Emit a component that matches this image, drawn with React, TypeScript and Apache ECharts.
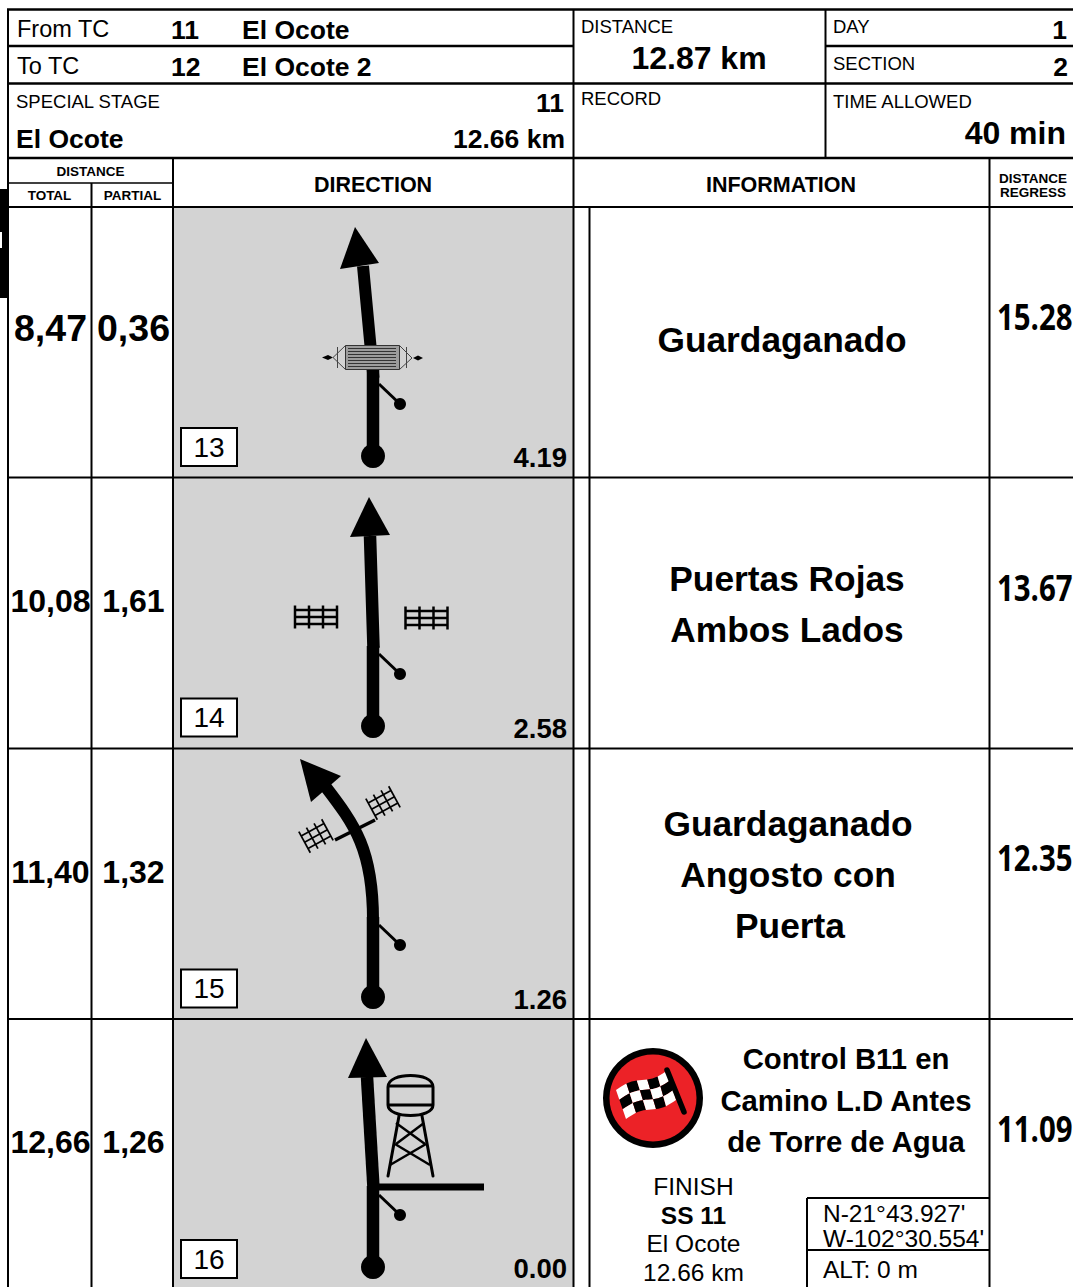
import React, { useEffect, useRef } from "react";
import * as echarts from "echarts";

const totals = ["8,47", "10,08", "11,40", "12,66"];
const partials = ["0,36", "1,61", "1,32", "1,26"];
const regress = ["15.28", "13.67", "12.35", "11.09"];
const stepNumbers = ["13", "14", "15", "16"];
const remaining = ["4.19", "2.58", "1.26", "0.00"];
const infoLines = [
  ["Guardaganado"],
  ["Puertas Rojas", "Ambos Lados"],
  ["Guardaganado", "Angosto con", "Puerta"],
  ["Control B11 en", "Camino L.D Antes", "de Torre de Agua"],
];
const finishLines = ["FINISH", "SS 11", "El Ocote", "12.66 km"];
const coordLines = ["N-21°43.927'", "W-102°30.554'", "ALT: 0 m"];

const FONT = "'Liberation Sans', Arial, sans-serif";
const K = "#000";
const els: any[] = [];

function T(text: string, x: number, y: number, size: number, bold = false, align = "left") {
  els.push({
    type: "text", x, y,
    style: {
      text, fontSize: size, fontFamily: FONT, fontWeight: bold ? "bold" : "normal", fill: K,
      align, textAlign: align, verticalAlign: "middle", textVerticalAlign: "middle",
    },
  });
}
function L(x1: number, y1: number, x2: number, y2: number, w = 2, c = K, cap = "butt") {
  els.push({ type: "line", shape: { x1, y1, x2, y2 }, style: { stroke: c, lineWidth: w, lineCap: cap } });
}
function C(cx: number, cy: number, r: number, fill = K) {
  els.push({ type: "circle", shape: { cx, cy, r }, style: { fill } });
}
function P(points: number[][], fill = K) {
  els.push({ type: "polygon", shape: { points }, style: { fill } });
}
function fence(cx: number, cy: number, w: number, h: number, rotation: number, lw: number) {
  const children: any[] = [];
  [-0.5, -1 / 6, 1 / 6, 0.5].forEach((f) =>
    children.push({ type: "line", shape: { x1: f * w, y1: -h / 2, x2: f * w, y2: h / 2 }, style: { stroke: K, lineWidth: lw } })
  );
  [-0.3, 0, 0.3].forEach((f) =>
    children.push({ type: "line", shape: { x1: -w / 2, y1: f * h, x2: w / 2, y2: f * h }, style: { stroke: K, lineWidth: lw } })
  );
  els.push({ type: "group", x: cx, y: cy, rotation, children });
}
function startStem(dy: number) {
  L(379, 384 + dy, 400, 404 + dy, 3);
  C(400, 404 + dy, 6);
  C(373, 456 + dy, 12);
}

function build() {
  els.length = 0;
  // page furniture
  els.push({ type: "rect", shape: { x: 0, y: 0, width: 1073, height: 1287 }, style: { fill: "#fff" } });
  els.push({ type: "rect", shape: { x: 174, y: 208, width: 399, height: 1079 }, style: { fill: "#d3d3d3" } });
  els.push({ type: "rect", shape: { x: 0, y: 189, width: 7, height: 109 }, style: { fill: K } });
  els.push({ type: "rect", shape: { x: 0, y: 232, width: 2, height: 16 }, style: { fill: "#fff" } });

  // grid
  L(7, 9.5, 1073, 9.5, 2.5);
  L(8, 9, 8, 1287, 2);
  L(573.5, 9, 573.5, 1287, 2);
  L(825.5, 9, 825.5, 158, 2);
  L(8, 46, 573, 46, 2.5);
  L(825, 46, 1073, 46, 2.5);
  L(8, 83.5, 1073, 83.5, 2.5);
  L(8, 158, 1073, 158, 2.5);
  L(8, 183, 173, 183, 1.5);
  L(8, 207, 1073, 207, 2);
  L(91.5, 183, 91.5, 1287, 2);
  L(173, 158, 173, 1287, 2);
  L(589.5, 207, 589.5, 1287, 2);
  L(989.5, 158, 989.5, 1287, 2);
  [477.5, 748.5, 1019].forEach((y) => L(8, y, 1073, y, 2));

  // header
  T("From TC", 17, 29, 23.5);
  T("11", 171, 30, 26.5, true);
  T("El Ocote", 242, 30, 26.5, true);
  T("To TC", 17, 66, 23.5);
  T("12", 171, 67, 26.5, true);
  T("El Ocote 2", 242, 67, 26.5, true);
  T("SPECIAL STAGE", 16, 101, 18.5);
  T("11", 564, 103, 26.5, true, "right");
  T("El Ocote", 16, 139, 26.5, true);
  T("12.66 km", 565, 139, 26.5, true, "right");
  T("DISTANCE", 581, 26, 18.5);
  T("12.87 km", 699, 58, 32, true, "center");
  T("RECORD", 581, 98, 18.5);
  T("DAY", 833, 26, 18.5);
  T("1", 1067, 30, 26.5, true, "right");
  T("SECTION", 833, 63, 18.5);
  T("2", 1068, 67, 26.5, true, "right");
  T("TIME ALLOWED", 833, 101, 18.5);
  T("40 min", 1066, 133, 32, true, "right");
  T("DISTANCE", 90.5, 171.5, 13.5, true, "center");
  T("TOTAL", 49.5, 195, 13.5, true, "center");
  T("PARTIAL", 132.5, 195, 13.5, true, "center");
  T("DIRECTION", 373, 185, 21.5, true, "center");
  T("INFORMATION", 781, 185, 21.5, true, "center");
  T("DISTANCE", 1033, 178, 13.5, true, "center");
  T("REGRESS", 1033, 192, 13.5, true, "center");

  // distances
  const dys = [0, 270, 541, 811];
  const totalY = [328, 601, 872, 1142];
  const regressY = [316, 587, 857, 1128];
  totals.forEach((t, i) => {
    T(t, 50.5, totalY[i], i === 0 ? 37.5 : 32, true, "center");
    T(partials[i], 133.5, totalY[i], i === 0 ? 37.5 : 32, true, "center");
    els.push({
      type: "text", x: 997, y: regressY[i], scaleX: 0.84,
      style: {
        text: regress[i], fontSize: 35, fontFamily: "'Open Sans', sans-serif", fontWeight: 700, fill: K,
        align: "left", textAlign: "left", verticalAlign: "middle", textVerticalAlign: "middle",
      },
    });
    const boxTop = [428, 698.5, 969.5, 1240][i];
    els.push({ type: "rect", shape: { x: 181, y: boxTop, width: 56, height: 38 }, style: { fill: "#fff", stroke: K, lineWidth: 2 } });
    T(stepNumbers[i], 209, boxTop + 19, 28, false, "center");
    T(remaining[i], 567, [457, 728, 999.5, 1268.5][i], 27.5, true, "right");
  });

  // row 1: straight with cattle guard
  L(363, 266, 373.5, 378, 12);
  L(373, 370, 373, 456, 12.5);
  P([[355, 227], [340, 269], [379, 263]]);
  startStem(0);
  els.push({ type: "rect", shape: { x: 345.5, y: 345.5, width: 54, height: 24 }, style: { fill: "#9c9c9c", stroke: "#333", lineWidth: 1 } });
  [348.5, 351.5, 354.5, 357.5, 360.5, 363.5, 366.5].forEach((y) => L(348, y, 396, y, 1, "#333"));
  els.push({ type: "polyline", shape: { points: [[345.5, 345.5], [333, 357.5], [345.5, 369.5]] }, style: { stroke: "#444", lineWidth: 1, fill: "none" } });
  els.push({ type: "polyline", shape: { points: [[399.5, 345.5], [412, 358], [399.5, 369.5]] }, style: { stroke: "#444", lineWidth: 1, fill: "none" } });
  L(337.5, 347, 337.5, 368, 1, "#444");
  L(406.5, 347, 406.5, 368, 1, "#444");
  P([[322, 357.5], [328, 355], [333, 357.5], [328, 360]]);
  P([[413, 358], [418, 355.5], [423, 358], [418, 360.5]]);

  // row 2: straight with gates
  const d2 = dys[1];
  L(370, 536, 373.5, 648, 12.5);
  L(373, 646, 373, 456 + d2, 12.5);
  P([[369, 497], [350, 537], [390, 535]]);
  startStem(d2);
  fence(316, 617, 42, 23, 0, 2.5);
  fence(426.5, 618, 42, 23, 0, 2.5);

  // row 3: curve with gates
  const d3 = dys[2];
  L(373, 917, 373, 456 + d3, 12.5);
  els.push({
    type: "bezierCurve",
    shape: { x1: 373, y1: 920, cpx1: 373, cpy1: 850, cpx2: 355, cpy2: 825, x2: 325, y2: 786 },
    style: { stroke: K, lineWidth: 12, fill: "none" },
  });
  P([[300, 759], [341, 776], [311, 802]]);
  startStem(d3);
  els.push({ type: "polyline", shape: { points: [[335, 840], [375, 820]] }, style: { stroke: K, lineWidth: 3.5, fill: "none" } });
  fence(316, 836, 26, 24, 0.5, 1.7);
  fence(383, 803, 26, 24, 0.5, 1.7);

  // row 4: tower and junction
  const d4 = dys[3];
  L(367, 1077, 373.5, 1188, 12.5);
  L(373, 1186, 373, 456 + d4, 12.5);
  P([[366, 1038], [348, 1078], [387, 1077]]);
  L(378, 1187, 484, 1187, 7);
  startStem(d4);
  els.push({ type: "waterTank", style: { fill: "none", stroke: K, lineWidth: 3 } });
  L(388, 1086, 433, 1086, 3);
  L(388, 1105, 433, 1105, 3);
  L(399, 1116, 388, 1176, 3, K, "round");
  L(422, 1116, 433, 1176, 3, K, "round");
  L(396, 1123, 425, 1144, 2.5);
  L(424, 1123, 396, 1144, 2.5);
  L(395, 1144, 430, 1165, 2.5);
  L(426, 1144, 390, 1165, 2.5);

  // information
  const infoX = [[782], [787, 787], [788, 788, 790], [846, 846, 846]];
  const infoY = [[339], [578, 629], [823, 874, 925], [1058, 1100, 1141]];
  infoLines.forEach((lines, r) =>
    lines.forEach((s, i) => T(s, infoX[r][i], infoY[r][i], r === 3 ? 29.3 : 35.3, true, "center"))
  );

  // flag badge
  C(653, 1098, 50);
  C(653, 1098, 43.5, "#ec2227");
  const TL = [616, 1090], TR = [668, 1070], BR = [676, 1100], BL = [626, 1119];
  const q = (u: number, v: number) => {
    const x = (1 - v) * ((1 - u) * TL[0] + u * TR[0]) + v * ((1 - u) * BL[0] + u * BR[0]);
    const y = (1 - v) * ((1 - u) * TL[1] + u * TR[1]) + v * ((1 - u) * BL[1] + u * BR[1]);
    return [x, y - 2.5 * Math.sin(2 * Math.PI * u)];
  };
  for (let r = 0; r < 3; r++)
    for (let c = 0; c < 5; c++) {
      const pts: number[][] = [];
      for (let s = 0; s <= 4; s++) pts.push(q((c + s / 4) / 5, r / 3));
      for (let s = 4; s >= 0; s--) pts.push(q((c + s / 4) / 5, (r + 1) / 3));
      P(pts, (r + c) % 2 === 0 ? "#fff" : K);
    }
  L(667, 1070, 684, 1112, 5.5, K, "round");

  // finish block
  const finishY = [1186, 1215, 1243, 1272];
  finishLines.forEach((s, i) => T(s, 693.5, finishY[i], 24.5, i === 1, "center"));
  L(807, 1198, 989, 1198, 2);
  L(807, 1250, 989, 1250, 2);
  L(807, 1198, 807, 1287, 2);
  T(coordLines[0], 823, 1213, 24.5);
  T(coordLines[1], 823, 1238, 24.5);
  T(coordLines[2], 823, 1269, 24.5);
  return els;
}

echarts.graphic.registerShape(
  "waterTank",
  echarts.graphic.extendPath(
    "M388 1087 C388 1079 399 1075.5 410.5 1075.5 C422 1075.5 433 1079 433 1087 L433 1105 C433 1112 422 1115.5 410.5 1115.5 C399 1115.5 388 1112 388 1105 Z",
    {}
  )
);

export default function App() {
  const ref = useRef<HTMLDivElement>(null);
  useEffect(() => {
    document.body.style.margin = "0";
    const chart = echarts.init(ref.current!, null, { renderer: "svg" });
    chart.setOption({ animation: false, graphic: { elements: build() } });
    return () => chart.dispose();
  }, []);
  return <div ref={ref} style={{ position: "absolute", left: 0, top: 0, width: 1073, height: 1287, overflow: "hidden" }} />;
}
